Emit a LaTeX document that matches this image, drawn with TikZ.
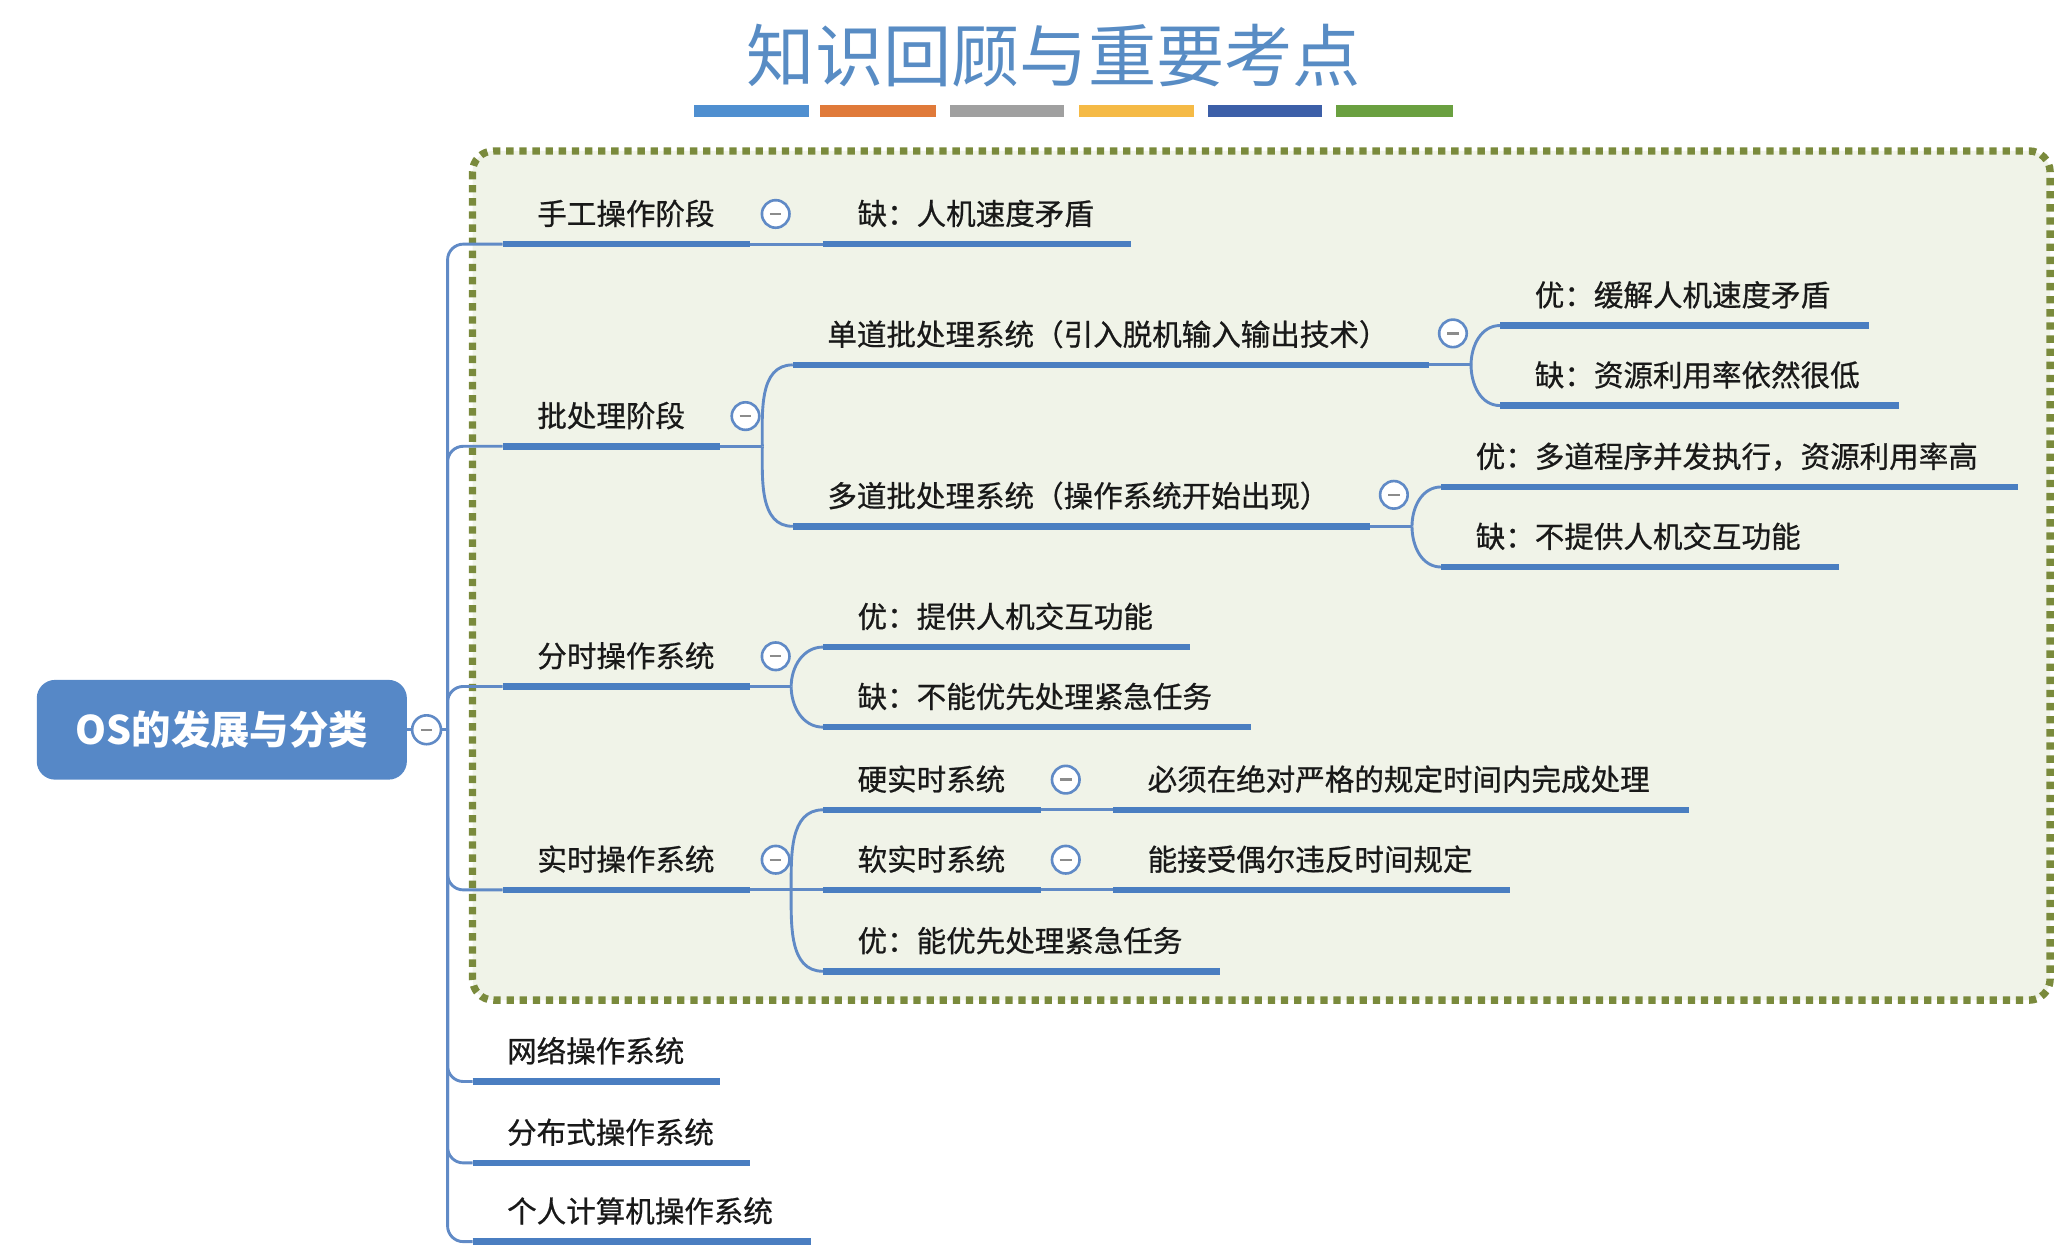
\documentclass[tikz,border=0pt]{standalone}
\usepackage{fontspec}
\setmainfont{Noto Sans CJK SC}
\newfontfamily\bodyfont[FakeBold=0.7]{Noto Sans CJK SC}
\usetikzlibrary{calc}
\definecolor{titlec}{RGB}{88,140,196}
\definecolor{ulc}{RGB}{74,126,193}
\definecolor{cnc}{RGB}{96,138,198}
\definecolor{rootc}{RGB}{86,136,199}
\definecolor{boxfill}{RGB}{240,243,232}
\definecolor{boxline}{RGB}{122,138,60}
\definecolor{txt}{RGB}{25,25,25}
\definecolor{barA}{RGB}{79,143,208}
\definecolor{barB}{RGB}{224,122,58}
\definecolor{barC}{RGB}{160,160,160}
\definecolor{barD}{RGB}{245,186,70}
\definecolor{barE}{RGB}{60,95,168}
\definecolor{barF}{RGB}{106,160,64}
\begin{document}
\begin{tikzpicture}[x=0.5pt,y=-0.5pt,
  topic/.style={anchor=south west, inner xsep=13pt, inner ysep=0pt, minimum height=23pt,
    text width=#1, align=left, text height=10pt, text depth=1.4pt,
    font=\bodyfont\fontsize{11.25pt}{13pt}\selectfont, text=txt},
  uline/.style={draw=ulc, line width=2.5pt},
  conn/.style={draw=cnc, line width=1.1pt},
  tog/.style={circle, draw=cnc, fill=white, line width=1pt, minimum size=10.5pt, inner sep=0pt,
    path picture={\draw[black!45, line width=0.9pt]
      ([xshift=-2.2pt]path picture bounding box.center) -- ([xshift=2.2pt]path picture bounding box.center);}},
  rootbox/.style={rounded corners=7pt, fill=rootc, minimum width=141pt, minimum height=38pt,
    text=white, font=\bfseries\fontsize{15pt}{18pt}\selectfont},
  dotbox/.style={draw=boxline, fill=boxfill, rounded corners=8pt, line width=2.8pt,
    dash pattern=on 2.8pt off 2.2pt}
]
\useasboundingbox (0,0) rectangle (1568,955);

% title and colour bars
\node[font=\fontsize{26pt}{30pt}\selectfont, text=titlec] (title) at (803,42) {知识回顾与重要考点};
\fill[barA] (529,80) rectangle (616,89);
\fill[barB] (625,80) rectangle (713,89);
\fill[barC] (724,80) rectangle (811,89);
\fill[barD] (822,80) rectangle (910,89);
\fill[barE] (920,80) rectangle (1007,89);
\fill[barF] (1018,80) rectangle (1107,89);

% dotted group box
\draw[dotbox] (360,115) rectangle (1562,762);

% root
\node[rootbox] (root) at (169,556) {OS的发展与分类};
\node[tog, minimum size=11pt] (troot) at (325,556) {};
\coordinate (spine) at (341,556);

% level 1
\node[topic=68pt]   (hand)  at (383,186) {手工操作阶段};
\node[topic=56.5pt] (batch) at (383,340) {批处理阶段};
\node[topic=68pt]   (ts)    at (383,523) {分时操作系统};
\node[topic=68pt]   (rt)    at (383,678) {实时操作系统};
\node[topic=68pt]   (net)   at (360,824) {网络操作系统};
\node[topic=79.5pt] (dist)  at (360,886) {分布式操作系统};
\node[topic=102.5pt](pc)    at (360,946) {个人计算机操作系统};

% level 2
\node[topic=91pt]    (handc)  at (627,186) {缺：人机速度矛盾};
\node[topic=216pt]   (single) at (604,278) {单道批处理系统（引入脱机输入输出技术）};
\node[topic=193.5pt] (multi)  at (604,401) {多道批处理系统（操作系统开始出现）};
\node[topic=113.5pt] (ts1)    at (627,493) {优：提供人机交互功能};
\node[topic=136.5pt] (ts2)    at (627,554) {缺：不能优先处理紧急任务};
\node[topic=56.5pt]  (hard)   at (627,617) {硬实时系统};
\node[topic=56.5pt]  (soft)   at (627,678) {软实时系统};
\node[topic=125pt]   (rt3)    at (627,740) {优：能优先处理紧急任务};

% level 3
\node[topic=114pt]   (s1)    at (1143,248) {优：缓解人机速度矛盾};
\node[topic=125.5pt] (s2)    at (1143,309) {缺：资源利用率依然很低};
\node[topic=193.5pt] (m1)    at (1098,371) {优：多道程序并发执行，资源利用率高};
\node[topic=125pt]   (m2)    at (1098,432) {缺：不提供人机交互功能};
\node[topic=193pt]   (hardc) at (848,617) {必须在绝对严格的规定时间内完成处理};
\node[topic=125pt]   (softc) at (848,678) {能接受偶尔违反时间规定};

% underlines
\foreach \n in {hand,batch,ts,rt,net,dist,pc,handc,single,multi,ts1,ts2,hard,soft,rt3,s1,s2,m1,m2,hardc,softc}
  \draw[uline] (\n.south west) -- (\n.south east);

% connectors
\draw[conn] (root.east) -- (troot.west);
\draw[conn] (troot.east) -- (spine);
\foreach \n in {hand,batch,ts,rt,net,dist,pc}
  \draw[conn, rounded corners=6pt] (spine) |- (\n.south west);

\draw[conn] (hand.south east) -- (handc.south west);
\draw[conn] (hard.south east) -- (hardc.south west);
\draw[conn] (soft.south east) -- (softc.south west);

\coordinate (jb) at ($(batch.south east)+(32,0)$);
\draw[conn] (batch.south east) -- (jb);
\draw[conn] (jb) to[out=90,in=180] (single.south west);
\draw[conn] (jb) to[out=-90,in=180] (multi.south west);

\coordinate (js) at ($(single.south east)+(32,0)$);
\draw[conn] (single.south east) -- (js);
\draw[conn] (js) to[out=90,in=180] (s1.south west);
\draw[conn] (js) to[out=-90,in=180] (s2.south west);

\coordinate (jm) at ($(multi.south east)+(32,0)$);
\draw[conn] (multi.south east) -- (jm);
\draw[conn] (jm) to[out=90,in=180] (m1.south west);
\draw[conn] (jm) to[out=-90,in=180] (m2.south west);

\coordinate (jt) at ($(ts.south east)+(31,0)$);
\draw[conn] (ts.south east) -- (jt);
\draw[conn] (jt) to[out=90,in=180] (ts1.south west);
\draw[conn] (jt) to[out=-90,in=180] (ts2.south west);

\coordinate (jr) at ($(rt.south east)+(31,0)$);
\draw[conn] (rt.south east) -- (jr);
\draw[conn] (jr) to[out=90,in=180] (hard.south west);
\draw[conn] (jr) -- (soft.south west);
\draw[conn] (jr) to[out=-90,in=180] (rt3.south west);

% collapse toggles
\node[tog] (thand)   at (591,163) {};
\node[tog] (tbatch)  at (568,317) {};
\node[tog] (tsingle) at (1107,254) {};
\node[tog] (tmulti)  at (1062,377) {};
\node[tog] (tts)     at (591,500) {};
\node[tog] (trt)     at (591,655) {};
\node[tog] (thard)   at (812,594) {};
\node[tog] (tsoft)   at (812,655) {};
\end{tikzpicture}
\end{document}
